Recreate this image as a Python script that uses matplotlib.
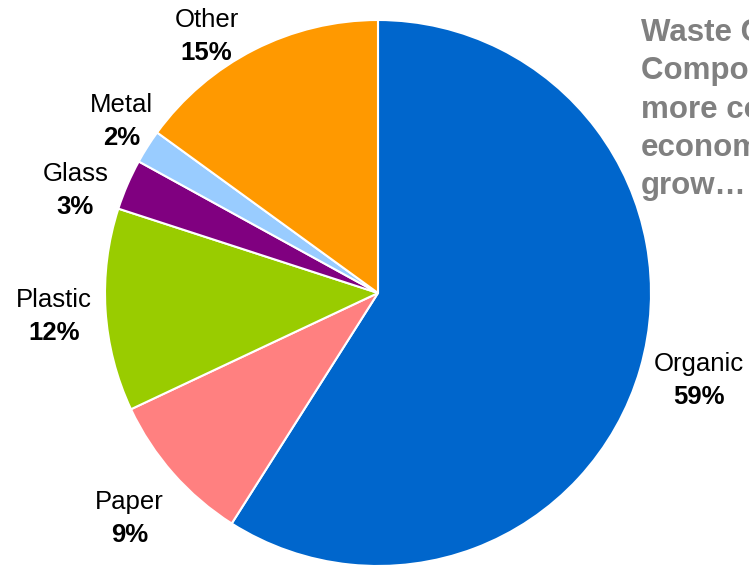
import numpy as np
import matplotlib
matplotlib.use('Agg')
import matplotlib.pyplot as plt


########################################################################################################################
# data
########################################################################################################################
categories = ['Organic', 'Paper', 'Plastic', 'Glass', 'Metal', 'Other']
shares = [59, 9, 12, 3, 2, 15]
colors = ['#0066CC', '#FF8080', '#99CC00', '#800080', '#99CCFF', '#FF9900']

title_lines = ['Waste Generation', 'Composition gets', 'more complex as', 'economies', 'grow\u2026']

# label placement: radius (in pie radii) and small angular nudge (deg) per slice
label_radius = [1.22, 1.23, 1.19, 1.17, 1.13, 1.13]
label_nudge = [0.9, 0.8, 0.6, 4.7, -1.4, 6.8]


########################################################################################################################
# plot
########################################################################################################################
plt.rcParams['font.family'] = ['Liberation Sans', 'DejaVu Sans']

W, H = 749, 565
cx, cy, R = 378, 293, 273

fig = plt.figure(figsize=(W / 100, H / 100), dpi=100)
ax = fig.add_axes([0, 0, 1, 1])

wedges, _ = ax.pie(shares, colors=colors, startangle=90, counterclock=False, radius=1.0,
                   wedgeprops=dict(edgecolor='white', linewidth=1.5))

ax.set_aspect('auto')
ax.set_xlim(-cx / R, (W - cx) / R)
ax.set_ylim(-(H - cy) / R, cy / R)
ax.axis('off')

for w, name, val, rr, nudge in zip(wedges, categories, shares, label_radius, label_nudge):
    ang = np.deg2rad((w.theta1 + w.theta2) / 2 + nudge)
    x, y = rr * np.cos(ang), rr * np.sin(ang)
    ax.annotate(name, (x, y), xytext=(0, 3.5), textcoords='offset points', ha='center', va='bottom',
                fontsize=18.5, color='black')
    ax.annotate('{0}%'.format(val), (x, y), xytext=(0, -3.0), textcoords='offset points', ha='center', va='top',
                fontsize=18.5, fontweight='bold', color='black')

fig.text(641 / W, 1 - 18 / H, '\n'.join(title_lines), ha='left', va='top', fontsize=22.5,
         fontweight='bold', color='#808080', linespacing=1.36)

fig.savefig('out.png', dpi=100)
